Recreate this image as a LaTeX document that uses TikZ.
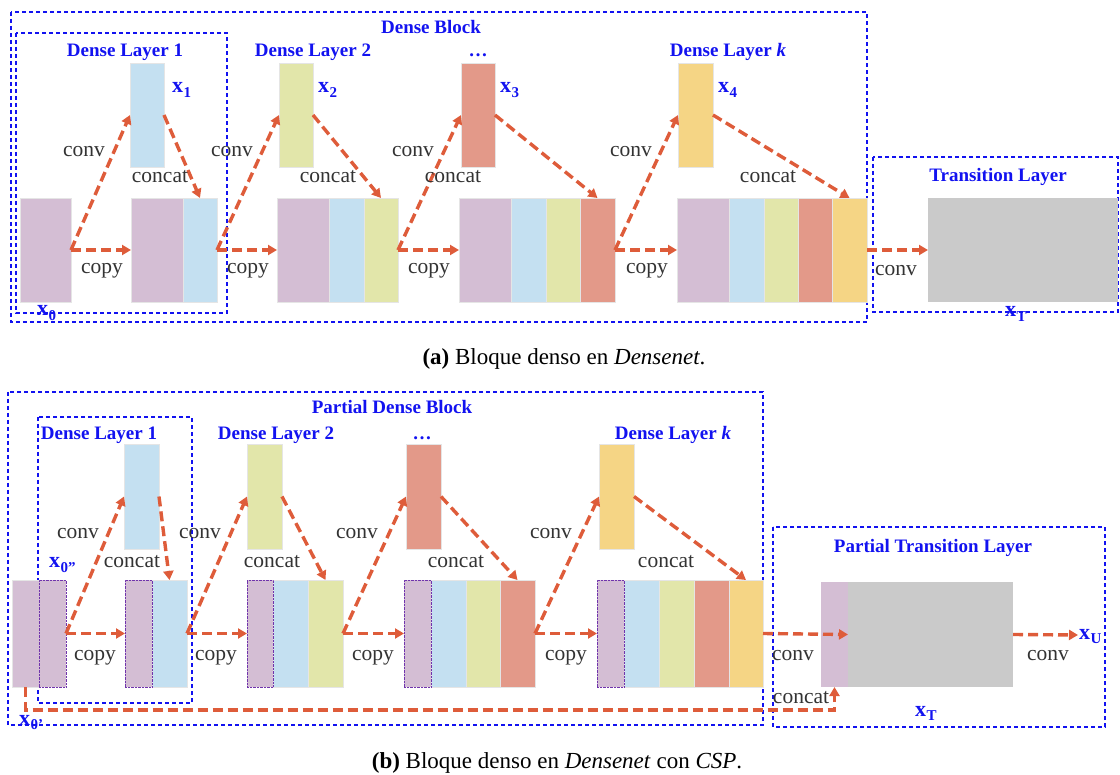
\documentclass[tikz,border=0pt]{standalone}
\usepackage{fontspec}
\setmainfont{Liberation Serif}
\usetikzlibrary{arrows.meta}

\definecolor{cpurple}{RGB}{212,190,212}
\definecolor{cblue}{RGB}{196,224,241}
\definecolor{cgreen}{RGB}{226,230,170}
\definecolor{cred}{RGB}{227,153,137}
\definecolor{cyellow}{RGB}{245,213,133}
\definecolor{cgray}{RGB}{202,202,202}
\definecolor{flow}{RGB}{222,92,58}
\definecolor{lblue}{RGB}{18,18,240}
\definecolor{dotc}{RGB}{112,52,172}

\newcommand\xlab[1]{x\kern0.4pt\raisebox{-0.45ex}{\fontsize{15}{15}\selectfont #1}}

\tikzset{
  strip/.style={rectangle, inner sep=0pt, outer sep=0pt, anchor=north west,
    draw=black!10, line width=0.4pt},
  dstrip/.style={strip, draw=dotc, densely dotted, line width=1pt},
  flowarrow/.style={draw=flow, line width=3.4pt, dash pattern=on 10pt off 5pt,
    -{Triangle[length=9pt,width=10pt]}},
  boxdash/.style={draw=lblue, line width=1.4pt, dash pattern=on 4pt off 3pt},
  title/.style={text=lblue, font=\fontsize{19}{21}\selectfont\bfseries, anchor=base},
  xname/.style={text=lblue, font=\fontsize{22}{24}\selectfont\bfseries, anchor=base west, inner sep=0pt},
  op/.style={text=black!80, font=\fontsize{21.5}{23}\selectfont, anchor=base, inner sep=0pt},
  caption/.style={font=\fontsize{23}{26}\selectfont, anchor=base},
}

\begin{document}
\begin{tikzpicture}[x=1pt, y=-1pt]
\useasboundingbox (0,0) rectangle (1120,775);

% ---------------- (a) Dense block ----------------
\draw[boxdash] (11,12) rectangle (867,322);
\draw[boxdash] (16,33) rectangle (227,313);
\draw[boxdash] (873,157) rectangle (1118,312);

\node[title] (ta0) at (431,34) {Dense Block};
\node[title] (ta1) at (125,57) {Dense Layer 1};
\node[title] (ta2) at (313,57) {Dense Layer 2};
\node[title] (ta3) at (478,57) {\dots};
\node[title] (ta4) at (728,57) {Dense Layer \textit{k}};
\node[title] (ta5) at (998,182) {Transition Layer};

% feature maps
\node[strip, fill=cpurple, minimum width=51, minimum height=104] (a0) at (20,198) {};
\node[strip, fill=cblue,   minimum width=34, minimum height=104] (ax1) at (130,63) {};
\node[strip, fill=cgreen,  minimum width=34, minimum height=104] (ax2) at (279,63) {};
\node[strip, fill=cred,    minimum width=34, minimum height=104] (ax3) at (461,63) {};
\node[strip, fill=cyellow, minimum width=35, minimum height=104] (ax4) at (678,63) {};

\node[strip, fill=cpurple, minimum width=52, minimum height=104] (a1p) at (131,198) {};
\node[strip, fill=cblue,   minimum width=34, minimum height=104] (a1b) at (183,198) {};

\node[strip, fill=cpurple, minimum width=52, minimum height=104] (a2p) at (277,198) {};
\node[strip, fill=cblue,   minimum width=35, minimum height=104] (a2b) at (329,198) {};
\node[strip, fill=cgreen,  minimum width=34, minimum height=104] (a2g) at (364,198) {};

\node[strip, fill=cpurple, minimum width=52, minimum height=104] (a3p) at (459,198) {};
\node[strip, fill=cblue,   minimum width=35, minimum height=104] (a3b) at (511,198) {};
\node[strip, fill=cgreen,  minimum width=34, minimum height=104] (a3g) at (546,198) {};
\node[strip, fill=cred,    minimum width=35, minimum height=104] (a3r) at (580,198) {};

\node[strip, fill=cpurple, minimum width=52, minimum height=104] (a4p) at (677,198) {};
\node[strip, fill=cblue,   minimum width=35, minimum height=104] (a4b) at (729,198) {};
\node[strip, fill=cgreen,  minimum width=34, minimum height=104] (a4g) at (764,198) {};
\node[strip, fill=cred,    minimum width=34, minimum height=104] (a4r) at (798,198) {};
\node[strip, fill=cyellow, minimum width=35, minimum height=104] (a4y) at (832,198) {};

\node[strip, fill=cgray, draw=none, minimum width=190, minimum height=104] (aT) at (928,198) {};

% flows
\draw[flowarrow] (a0.east) -- (ax1.west);
\draw[flowarrow] (a0.east) -- (a1p.west);
\draw[flowarrow] (ax1.east) -- (a1b.north);
\draw[flowarrow] (a1b.east) -- (ax2.west);
\draw[flowarrow] (a1b.east) -- (a2p.west);
\draw[flowarrow] (ax2.east) -- (a2g.north);
\draw[flowarrow] (a2g.east) -- (ax3.west);
\draw[flowarrow] (a2g.east) -- (a3p.west);
\draw[flowarrow] (ax3.east) -- (a3r.north);
\draw[flowarrow] (a3r.east) -- (ax4.west);
\draw[flowarrow] (a3r.east) -- (a4p.west);
\draw[flowarrow] (ax4.east) -- (a4y.north);
\draw[flowarrow] (a4y.east) -- (aT.west);

% operation labels
\node[op] (ac1) at (84,157) {conv};
\node[op] (ac2) at (232,157) {conv};
\node[op] (ac3) at (413,157) {conv};
\node[op] (ac4) at (631,157) {conv};
\node[op] (ac5) at (896,276) {conv};
\node[op] (ak1) at (160,183) {concat};
\node[op] (ak2) at (328,183) {concat};
\node[op] (ak3) at (453,183) {concat};
\node[op] (ak4) at (768,183) {concat};
\node[op] (ay1) at (102,274) {copy};
\node[op] (ay2) at (248,274) {copy};
\node[op] (ay3) at (429,274) {copy};
\node[op] (ay4) at (647,274) {copy};

% tensor names
\node[xname] (nx0) at (37,316) {\xlab{0}};
\node[xname] (nx1) at (172,93) {\xlab{1}};
\node[xname] (nx2) at (318,93) {\xlab{2}};
\node[xname] (nx3) at (500,93) {\xlab{3}};
\node[xname] (nx4) at (718,93) {\xlab{4}};
\node[xname] (nxT) at (1005,317) {\xlab{T}};

\node[caption] (capa) at (564,365) {\textbf{(a)} Bloque denso en \textit{Densenet}.};

% ---------------- (b) Partial dense block (CSP) ----------------
\draw[boxdash] (8,392) rectangle (763,725);
\draw[boxdash] (38,417) rectangle (192,703);
\draw[boxdash] (773,527) rectangle (1105,727);

\node[title] (tb0) at (392,414) {Partial Dense Block};
\node[title] (tb1) at (99,440) {Dense Layer 1};
\node[title] (tb2) at (276,440) {Dense Layer 2};
\node[title] (tb3) at (422,440) {\dots};
\node[title] (tb4) at (673,440) {Dense Layer \textit{k}};
\node[title] (tb5) at (933,552) {Partial Transition Layer};

\node[strip, fill=cpurple, minimum width=27, minimum height=107] (b0a) at (12,580) {};
\node[dstrip, fill=cpurple, minimum width=27, minimum height=107] (b0b) at (39,580) {};

\node[strip, fill=cblue,   minimum width=35, minimum height=105] (bx1) at (124,444) {};
\node[strip, fill=cgreen,  minimum width=35, minimum height=105] (bx2) at (247,444) {};
\node[strip, fill=cred,    minimum width=35, minimum height=105] (bx3) at (406,444) {};
\node[strip, fill=cyellow, minimum width=35, minimum height=105] (bx4) at (599,444) {};

\node[strip, fill=cblue,   minimum width=35, minimum height=107] (b1b) at (152,580) {};
\node[dstrip, fill=cpurple, minimum width=27, minimum height=107] (b1p) at (125,580) {};

\node[strip, fill=cblue,   minimum width=35, minimum height=107] (b2b) at (273,580) {};
\node[strip, fill=cgreen,  minimum width=35, minimum height=107] (b2g) at (308,580) {};
\node[dstrip, fill=cpurple, minimum width=26, minimum height=107] (b2p) at (247,580) {};

\node[strip, fill=cblue,   minimum width=35, minimum height=107] (b3b) at (431,580) {};
\node[strip, fill=cgreen,  minimum width=34, minimum height=107] (b3g) at (466,580) {};
\node[strip, fill=cred,    minimum width=35, minimum height=107] (b3r) at (500,580) {};
\node[dstrip, fill=cpurple, minimum width=27, minimum height=107] (b3p) at (404,580) {};

\node[strip, fill=cblue,   minimum width=35, minimum height=107] (b4b) at (624,580) {};
\node[strip, fill=cgreen,  minimum width=35, minimum height=107] (b4g) at (659,580) {};
\node[strip, fill=cred,    minimum width=35, minimum height=107] (b4r) at (694,580) {};
\node[strip, fill=cyellow, minimum width=34, minimum height=107] (b4y) at (729,580) {};
\node[dstrip, fill=cpurple, minimum width=27, minimum height=107] (b4p) at (597,580) {};

\node[strip, fill=cpurple, draw=none, minimum width=27, minimum height=105] (bTp) at (821,582) {};
\node[strip, fill=cgray,   draw=none, minimum width=165, minimum height=105] (bTg) at (848,582) {};
\coordinate (bU) at (1078,635);

% flows
\draw[flowarrow] (b0b.east) -- (bx1.west);
\draw[flowarrow] (b0b.east) -- (b1p.west);
\draw[flowarrow] (bx1.east) -- (b1b.north);
\draw[flowarrow] (b1b.east) -- (bx2.west);
\draw[flowarrow] (b1b.east) -- (b2p.west);
\draw[flowarrow] (bx2.east) -- (b2g.north);
\draw[flowarrow] (b2g.east) -- (bx3.west);
\draw[flowarrow] (b2g.east) -- (b3p.west);
\draw[flowarrow] (bx3.east) -- (b3r.north);
\draw[flowarrow] (b3r.east) -- (bx4.west);
\draw[flowarrow] (b3r.east) -- (b4p.west);
\draw[flowarrow] (bx4.east) -- (b4y.north);
\draw[flowarrow] (b4y.east) -- (bTp.east);
\draw[flowarrow] (bTg.east) -- (bU);
\draw[flowarrow] (b0a.south) -- ++(0,23) -| (bTp.south);

\node[op] (bc1) at (78,539) {conv};
\node[op] (bc2) at (200,539) {conv};
\node[op] (bc3) at (357,539) {conv};
\node[op] (bc4) at (551,539) {conv};
\node[op] (bc5) at (793,660) {conv};
\node[op] (bc6) at (1048,660) {conv};
\node[op] (bk1) at (132,567) {concat};
\node[op] (bk2) at (272,567) {concat};
\node[op] (bk3) at (456,567) {concat};
\node[op] (bk4) at (666,567) {concat};
\node[op] (bk5) at (801,703) {concat};
\node[op] (by1) at (95,660) {copy};
\node[op] (by2) at (216,660) {copy};
\node[op] (by3) at (373,660) {copy};
\node[op] (by4) at (566,660) {copy};

\node[xname] (mx0a) at (49,568) {\xlab{0”}};
\node[xname] (mx0b) at (19,725) {\xlab{0’}};
\node[xname] (mxT) at (915,716) {\xlab{T}};
\node[xname] (mxU) at (1079,639) {\xlab{U}};

\node[caption] (capb) at (557,768) {\textbf{(b)} Bloque denso en \textit{Densenet} con \textit{CSP}.};
\end{tikzpicture}
\end{document}
